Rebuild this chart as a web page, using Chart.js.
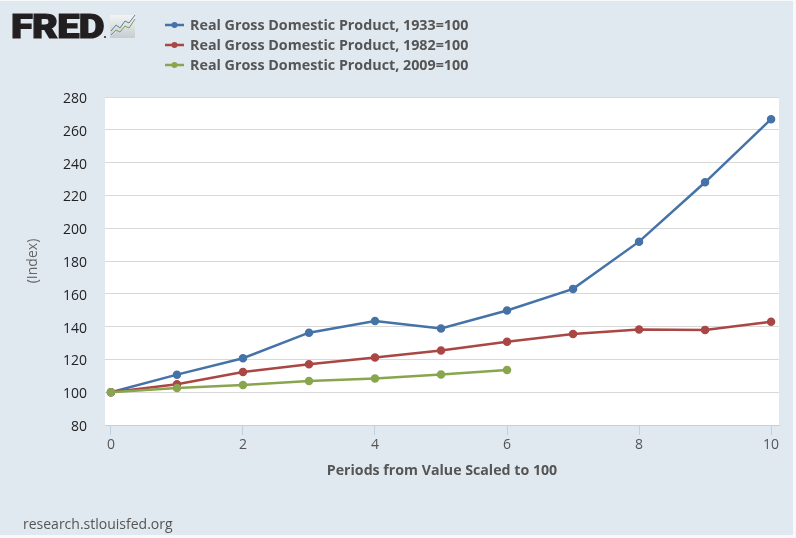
<!DOCTYPE html>
<html>
<head>
<meta charset="utf-8">
<title>Real Gross Domestic Product</title>
<script src="https://cdn.jsdelivr.net/npm/chart.js@4"></script>
<style>
    html, body { margin: 0; padding: 0; background: #f7f9fa; }
    #wrap { position: relative; width: 796px; height: 538px; overflow: hidden; font-family: "Open Sans", sans-serif; }
    #panel { position: absolute; left: 0; top: 1px; width: 793px; height: 534px; background: #e1e9f0; }
    #annualChart { position: absolute; left: 0; top: 0; }
    #logo { position: absolute; left: 11px; top: 4px; font: 900 34px/44px Roboto, sans-serif; color: #231f20;
            -webkit-text-stroke: 1.2px #231f20; letter-spacing: -0.6px; transform: scaleX(1.17); transform-origin: left top; }
    #logo-icon { position: absolute; left: 110px; top: 14px; }
    #reg { position: absolute; left: 104px; top: 36px; width: 2px; height: 2px; background: #231f20; border-radius: 50%; }
    #legend { position: absolute; left: 165px; top: 15px; }
    .row { height: 20px; line-height: 20px; font-size: 14.3px; font-weight: 700; color: #555; white-space: nowrap; }
    .row svg { vertical-align: top; margin-right: 6px; }
    #source { position: absolute; left: 23px; top: 514px; font-size: 14px; line-height: 20px; color: #555; }
</style>
</head>
<body>
<div id="wrap">
    <div id="panel"></div>
    <canvas id="annualChart" width="796" height="538"></canvas>
    <div id="logo">FRED</div>
    <div id="reg"></div>
    <svg id="logo-icon" width="26" height="24" viewBox="0 0 26 24">
        <defs><linearGradient id="fade" x1="0" y1="0" x2="0" y2="1"><stop offset="0" stop-color="#f2f4f4"/><stop offset="1" stop-color="#c6cdd0"/></linearGradient></defs>
        <rect x="0" y="1" width="25" height="23" fill="url(#fade)"/>
        <polyline points="1,17 6,11 10,14 15,7 19,9 25,1" fill="none" stroke="#5d7f98" stroke-width="1"/>
        <polyline points="1,21 6,16 10,18 15,12 19,14 25,5" fill="none" stroke="#7f9a55" stroke-width="1"/>
    </svg>
    <div id="legend"></div>
    <div id="source">research.stlouisfed.org</div>
</div>
<script>
const periods = [0, 1, 2, 3, 4, 5, 6, 7, 8, 9, 10];
const gdp1933 = [100, 110.7, 120.7, 136.3, 143.4, 138.8, 149.8, 163, 191.8, 228, 266.5];
const gdp1982 = [100, 104.8, 112.3, 117, 121.2, 125.4, 130.7, 135.5, 138.2, 138, 143];
const gdp2009 = [100, 102.6, 104.4, 106.8, 108.4, 110.8, 113.5];
const seriesNames = [
    'Real Gross Domestic Product, 1933=100',
    'Real Gross Domestic Product, 1982=100',
    'Real Gross Domestic Product, 2009=100'
];
const seriesColors = ['#4572a7', '#aa4643', '#89a54e'];
const xTicks = [0, 2, 4, 6, 8, 10];
const yTicks = [80, 100, 120, 140, 160, 180, 200, 220, 240, 260, 280];

function toPoints(values) {
    return values.map((v, i) => ({ x: periods[i], y: v }));
}

// fundo branco da area do grafico
const plotBackground = {
    id: 'plotBackground',
    beforeDraw(chart) {
        const a = chart.chartArea;
        chart.ctx.fillStyle = '#ffffff';
        chart.ctx.fillRect(a.left, a.top, a.width, a.height);
    }
};

const legend = document.getElementById('legend');
seriesNames.forEach((name, i) => {
    const row = document.createElement('div');
    row.className = 'row';
    row.innerHTML = '<svg width="19" height="20"><line x1="0" y1="10" x2="19" y2="10" stroke="' + seriesColors[i] +
        '" stroke-width="2.5"/><circle cx="9.5" cy="10" r="3" fill="' + seriesColors[i] + '"/></svg>' + name;
    legend.appendChild(row);
});

new Chart(document.getElementById('annualChart'), {
    type: 'line',
    plugins: [plotBackground],
    data: {
        datasets: [gdp1933, gdp1982, gdp2009].map((values, i) => ({
            label: seriesNames[i],
            data: toPoints(values),
            borderColor: seriesColors[i],
            backgroundColor: seriesColors[i],
            borderWidth: 2.5,
            pointRadius: 3,
            tension: 0,
            order: 3 - i
        }))
    },
    options: {
        responsive: false,
        animation: false,
        devicePixelRatio: 1,
        layout: { padding: { left: 25, top: 97, right: 17, bottom: 59 } },
        plugins: { legend: { display: false }, tooltip: { enabled: false } },
        scales: {
            x: {
                type: 'linear',
                min: -0.09,
                max: 10.12,
                afterBuildTicks(scale) { scale.ticks = xTicks.map(v => ({ value: v })); },
                afterFit(scale) { scale.height = 54; },
                grid: { drawOnChartArea: false, color: '#c0d0e0', tickLength: 10 },
                border: { color: '#c0d0e0' },
                ticks: { color: '#555', font: { family: 'Open Sans', size: 14 }, maxRotation: 0, padding: 2 },
                title: {
                    display: true,
                    text: 'Periods from Value Scaled to 100',
                    color: '#555',
                    font: { family: 'Open Sans', size: 14.2, weight: 'bold' },
                    padding: 0
                }
            },
            y: {
                min: 80,
                max: 280,
                afterBuildTicks(scale) { scale.ticks = yTicks.map(v => ({ value: v })); },
                afterFit(scale) { scale.width = 80; },
                grid: { color: '#d8d8d8', drawTicks: false },
                border: { display: false },
                ticks: { color: '#222', font: { family: 'Open Sans', size: 14 }, padding: 18, labelOffset: 2 },
                title: {
                    display: true,
                    text: '(Index)',
                    color: '#666',
                    font: { family: 'Open Sans', size: 14 },
                    padding: 0
                }
            }
        }
    }
});
</script>
</body>
</html>
